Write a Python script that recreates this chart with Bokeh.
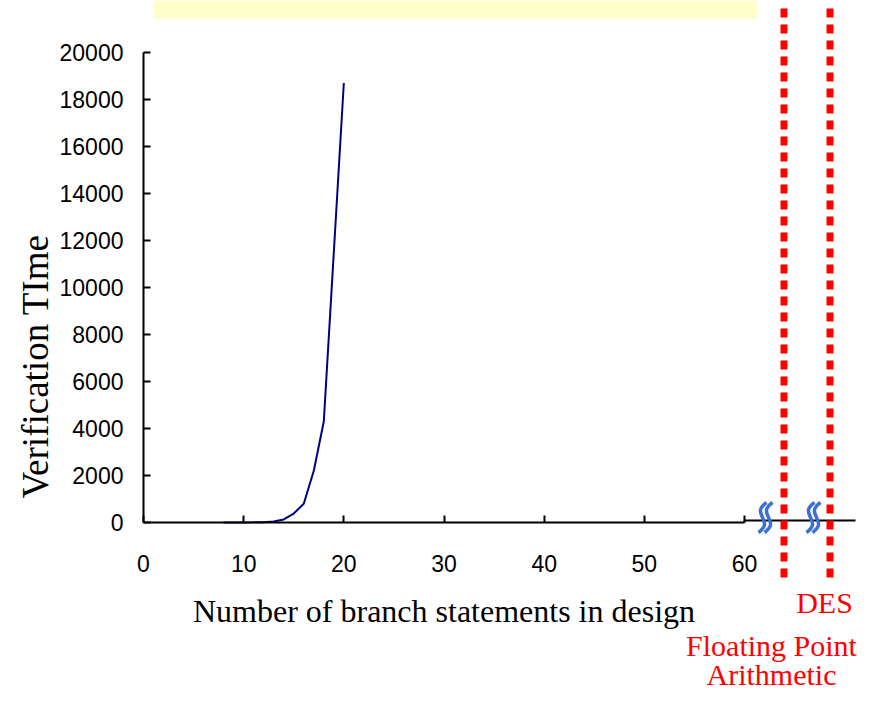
import math
from bokeh.plotting import figure
from bokeh.models import Range1d, FixedTicker, Label, LinearAxis
from bokeh.embed import file_html
from bokeh.resources import INLINE

# ---- data ----
branches = [8, 9, 10, 11, 12, 13, 14, 15, 16, 17, 18, 19, 20]
verif_time = [0, 1, 3, 7, 15, 40, 130, 380, 800, 2200, 4300, 11500, 18700]
x_ticks = [0, 10, 20, 30, 40, 50, 60]
y_ticks = [0, 2000, 4000, 6000, 8000, 10000, 12000, 14000, 16000, 18000, 20000]
x_title = "Number of branch statements in design"
y_title = "Verification TIme"
break_labels = ["DES", "Floating Point", "Arithmetic"]

# ---- pixel layout (reference window coords) ----
W, H = 866, 693
OFF = 0
X0_PX, X60_PX = 143, 744
Y0_PX, Y20K_PX = 522, 52
sx = (X60_PX - X0_PX) / 60.0
sy = (Y0_PX - Y20K_PX) / 20000.0
xs = -(X0_PX - OFF) / sx
xe = xs + W / sx
ye = (Y0_PX - OFF) / sy
ys = ye - H / sy


def dx(px):
    return xs + (px - OFF) / sx


def dy(py):
    return ye - (py - OFF) / sy


p = figure(width=W, height=H, x_range=Range1d(xs, xe), y_range=Range1d(ys, ye),
           output_backend="svg", toolbar_location=None, min_border=0,
           x_axis_location=None, y_axis_location=None)
p.outline_line_color = None
p.xgrid.visible = False
p.ygrid.visible = False
p.background_fill_color = "white"
p.border_fill_color = "white"

# axes
xaxis = LinearAxis(fixed_location=0, bounds=(0, 60), ticker=FixedTicker(ticks=x_ticks))
yaxis = LinearAxis(fixed_location=0, bounds=(0, 20000), ticker=FixedTicker(ticks=y_ticks))
for ax in (xaxis, yaxis):
    ax.axis_line_width = 2
    ax.axis_line_color = "black"
    ax.major_tick_in = 7
    ax.major_tick_out = 0
    ax.major_tick_line_width = 2
    ax.major_tick_line_color = "black"
    ax.minor_tick_line_color = None
    ax.major_label_text_font = "Liberation Sans"
    ax.major_label_text_font_size = "23px"
    ax.major_label_text_color = "black"
xaxis.major_label_standoff = 32
yaxis.major_label_standoff = 20
xaxis.axis_label = x_title
xaxis.axis_label_text_font = "Liberation Serif"
xaxis.axis_label_text_font_style = "normal"
xaxis.axis_label_text_font_size = "32px"
xaxis.axis_label_text_color = "black"
xaxis.axis_label_standoff = 18
p.add_layout(xaxis, "below")
p.add_layout(yaxis, "left")

# yellow bar at top
p.quad(left=dx(153), right=dx(757), top=dy(0), bottom=dy(18),
       fill_color="#FFFFCC", line_color=None)

# axis extension beyond break
p.segment(x0=[60], y0=[dy(520)], x1=[dx(855)], y1=[dy(520)], line_color="black", line_width=2)
p.segment(x0=[60], y0=[0], x1=[60], y1=[dy(520)], line_color="black", line_width=2)

# red dotted lines
for cx in (783.5, 829.5):
    p.segment(x0=[dx(cx)], y0=[dy(8)], x1=[dx(cx)], y1=[dy(580)],
              line_color="#FF0000", line_width=7, line_dash="9 7", line_cap="butt")

# break symbols
for cx in (765, 813):
    for off in (-3, 3):
        xc = cx + off
        p.bezier(x0=[dx(xc + 4)], y0=[dy(502)], x1=[dx(xc - 4)], y1=[dy(532)],
                 cx0=[dx(xc - 13)], cy0=[dy(514)], cx1=[dx(xc + 13)], cy1=[dy(520)],
                 line_color="#3B6FD4", line_width=3.5)

# data line
p.line(branches, verif_time, line_color="#000080", line_width=2)

# y title
p.add_layout(Label(x=dx(35), y=dy(366), text=y_title, angle=math.pi / 2,
                   text_align="center", text_baseline="middle",
                   text_font="Liberation Serif", text_font_size="37px", text_color="black"))

# red labels
for txt, cxp, byp in zip(break_labels, (824, 771, 771), (602, 645, 674)):
    p.add_layout(Label(x=dx(cxp), y=dy(byp), text=txt, text_align="center",
                       text_baseline="alphabetic", text_font="Liberation Serif",
                       text_font_size="30px", text_color="#FF0000"))

open("out.html", "w").write(file_html(p, INLINE))
